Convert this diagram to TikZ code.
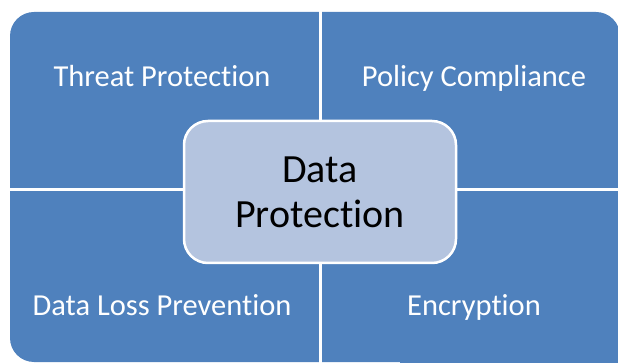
\documentclass[tikz,border=0pt]{standalone}
\usepackage{fontspec}
\setmainfont{Carlito}[Ligatures={NoCommon,NoContextual}]
\definecolor{quad}{HTML}{4F81BD}
\definecolor{ctr}{HTML}{B4C4DF}
\begin{document}
\begin{tikzpicture}[x=1pt,y=-1pt,
  quadlabel/.style={text=white,anchor=base,inner sep=0pt,font=\fontsize{30.5}{34}\selectfont},
  centerbox/.style={draw=white,line width=2.5pt,fill=ctr,rounded corners=24pt,
    minimum width=272pt,minimum height=142pt,align=center,
    font=\fontsize{40}{45}\selectfont}]
\useasboundingbox (0,0) rectangle (618,363);
\begin{scope}
\clip (0,0) rectangle (618,363);
\fill[quad,rounded corners=24pt] (10,12) rectangle (620,362);
\fill[quad] (400,300) rectangle (618,363);
\end{scope}
\coordinate (vt) at (320,0);
\coordinate (vb) at (320,363);
\coordinate (hl) at (0,190);
\coordinate (hr) at (618,190);
\draw[white,line width=3pt] (vt) -- (vb);
\draw[white,line width=3pt] (hl) -- (hr);
\node[quadlabel] (tp) at (162,87) {Threat Protection};
\node[quadlabel] (pc) at (474,87) {Policy Compliance};
\node[quadlabel] (dlp) at (162,315) {Data Loss Prevention};
\node[quadlabel] (enc) at (474,315) {Encryption};
\node[centerbox] (dp) at (320,192) {Data\\Protection};
\end{tikzpicture}
\end{document}
